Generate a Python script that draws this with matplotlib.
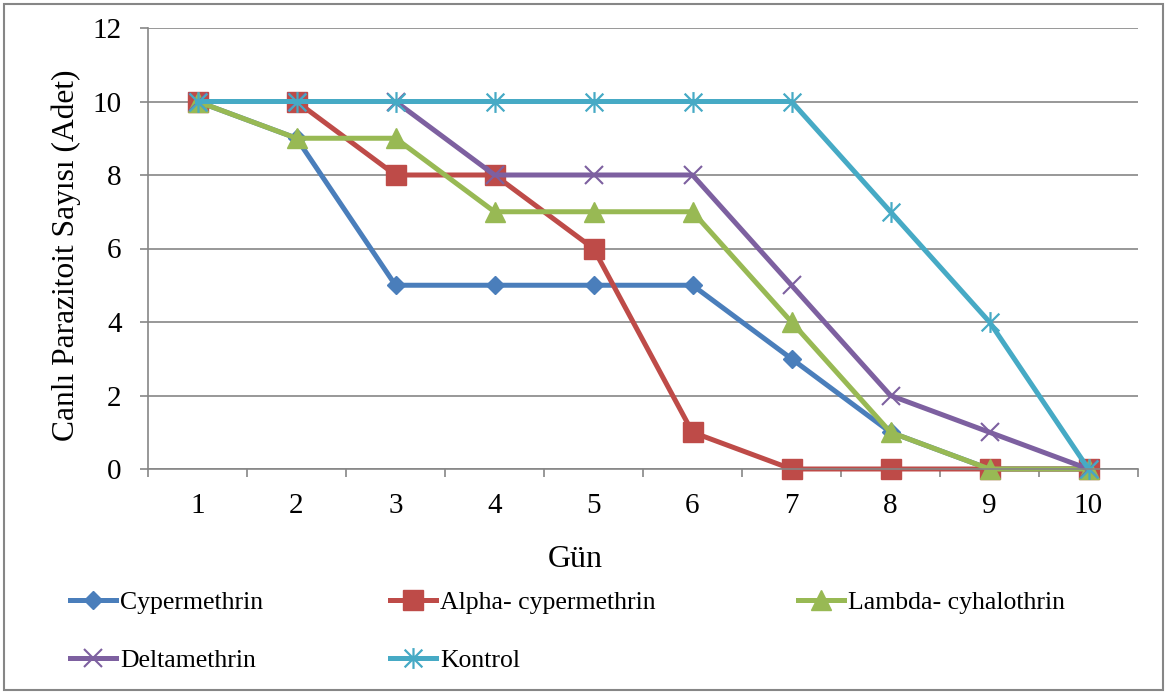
import numpy as np
import matplotlib
matplotlib.use("AGG")
import matplotlib.pyplot as plt
from matplotlib.path import Path
from matplotlib.patches import Rectangle

plt.rcParams['font.family'] = ['Liberation Serif', 'DejaVu Serif']

days = [1, 2, 3, 4, 5, 6, 7, 8, 9, 10]
cypermethrin = [10, 9, 5, 5, 5, 5, 3, 1, 0, 0]
alpha_cyp = [10, 10, 8, 8, 6, 1, 0, 0, 0, 0]
lambda_cyh = [10, 9, 9, 7, 7, 7, 4, 1, 0, 0]
deltamethrin = [10, 10, 10, 8, 8, 8, 5, 2, 1, 0]
kontrol = [10, 10, 10, 10, 10, 10, 10, 7, 4, 0]

names = ["Cypermethrin", "Alpha- cypermethrin", "Lambda- cyhalothrin",
         "Deltamethrin", "Kontrol"]
colors = ["#4A7EBB", "#BE4B48", "#98B954", "#7D60A0", "#46AAC5"]

# excel style asterisk marker
d = 0.85
star = Path([(-d, -d), (d, d), (-d, d), (d, -d), (0, -1), (0, 1)],
            [Path.MOVETO, Path.LINETO, Path.MOVETO, Path.LINETO, Path.MOVETO, Path.LINETO])

styles = [dict(marker='D', markersize=9),
          dict(marker='s', markersize=14.5),
          dict(marker='^', markersize=15),
          dict(marker='x', markersize=13, markeredgewidth=1.5),
          dict(marker=star, markersize=15, markeredgewidth=1.6)]

fig = plt.figure(figsize=(11.68, 6.93), dpi=100)
ax = fig.add_axes([148/1168, 1-469/693, (1138-148)/1168, (469-28)/693])

series = [cypermethrin, alpha_cyp, lambda_cyh, deltamethrin, kontrol]
lines = []
for vals, name, c, st in zip(series, names, colors, styles):
    ln, = ax.plot(days, vals, color=c, lw=3.6, label=name,
                  markerfacecolor=c, markeredgecolor=c, clip_on=False, **st)
    lines.append(ln)

ax.set_xlim(0.5, 10.5)
ax.set_ylim(0, 12)
ax.set_yticks(np.arange(0, 13, 2))
ax.set_xticks(days)
ax.set_xticks(np.arange(0.5, 11, 1), minor=True)
ax.tick_params(axis='x', which='major', length=0, labelsize=21, pad=17)
ax.tick_params(axis='x', which='minor', length=6, width=1.2, color='#868686')
ax.tick_params(axis='y', length=6, width=1.2, color='#868686', labelsize=21, pad=13)
ax.grid(axis='y', color='#868686', lw=1.2)
ax.set_axisbelow(True)
for s in ['top', 'right']:
    ax.spines[s].set_visible(False)
for s in ['left', 'bottom']:
    ax.spines[s].set_color('#868686')
    ax.spines[s].set_linewidth(1.2)

ax.set_xlabel("Gün", fontsize=23)
ax.xaxis.set_label_coords((575-148)/990, -(545-469)/441)
ax.set_ylabel("Canlı Parazitoit Sayısı (Adet)", fontsize=22.7)
ax.yaxis.set_label_coords(-(148-81)/990, (469-255)/441)

# legend in three columns like the excel layout
leg_kw = dict(frameon=False, fontsize=18.5, handlelength=1.8, handletextpad=0.15,
              labelspacing=1.36, borderpad=0, borderaxespad=0, loc='upper left')
top = 1 - 591/693
fig.legend([lines[0], lines[3]], [names[0], names[3]],
           bbox_to_anchor=(70/1168, top), **leg_kw)
fig.legend([lines[1], lines[4]], [names[1], names[4]],
           bbox_to_anchor=(390/1168, top), **leg_kw)
fig.legend([lines[2]], [names[2]],
           bbox_to_anchor=(798/1168, top), **leg_kw)

fig.patches.append(Rectangle((4/1168, 3/693), 1159/1168, 686/693, transform=fig.transFigure,
                             fill=False, edgecolor='#868686', lw=1.5))

plt.savefig("out.png", dpi=100)
